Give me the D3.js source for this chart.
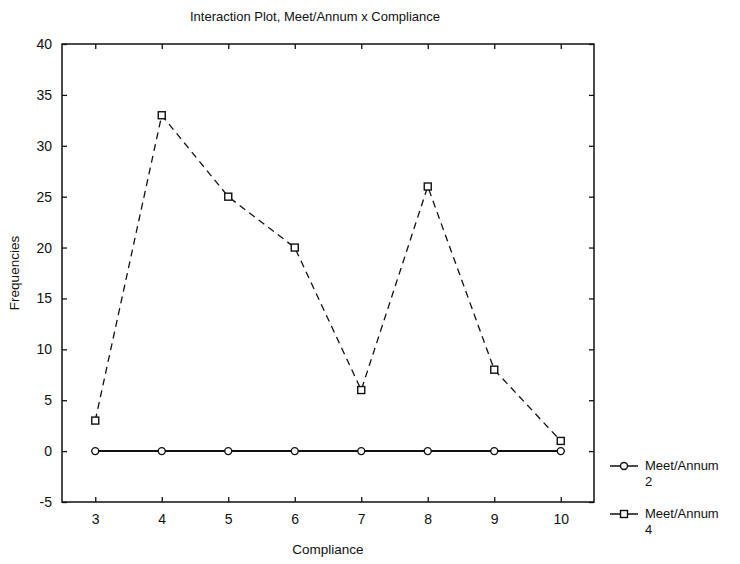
<!DOCTYPE html>
<html>
<head>
<meta charset="utf-8">
<script src="https://cdn.jsdelivr.net/npm/d3@7"></script>
<style>
  body { margin: 0; background: #fff; }
  text { font-family: "Liberation Sans", Arial, sans-serif; fill: #111; }
</style>
</head>
<body>
<div id="chart"></div>
<script>
// data
var compliance = [3, 4, 5, 6, 7, 8, 9, 10];
var meet2 = [0, 0, 0, 0, 0, 0, 0, 0];
var meet4 = [3, 33, 25, 20, 6, 26, 8, 1];
var yTicks = [-5, 0, 5, 10, 15, 20, 25, 30, 35, 40];
var seriesNames = ["Meet/Annum", "Meet/Annum"];
var seriesLevels = ["2", "4"];

var width = 740, height = 564;
// plot frame edges (note: "top" is reserved on window, so use other names)
var plotLeft = 62, plotRight = 594, plotTop = 44, plotBottom = 502;

var svg = d3.select("#chart").append("svg")
    .attr("width", width)
    .attr("height", height);

var x = d3.scaleLinear().domain([2.5, 10.5]).range([plotLeft, plotRight]);
var y = d3.scaleLinear().domain([-5, 40]).range([plotBottom, plotTop]);

// frame
svg.append("rect")
   .attr("x", plotLeft).attr("y", plotTop)
   .attr("width", plotRight - plotLeft).attr("height", plotBottom - plotTop)
   .attr("fill", "none").attr("stroke", "#111").attr("stroke-width", 1.5);

// axes, ticks point inward
var xAxis = d3.axisBottom(x).tickValues(compliance).tickSize(-5).tickPadding(12);
var xTop = d3.axisTop(x).tickValues(compliance).tickSize(-5).tickFormat("");
var yAxis = d3.axisLeft(y).tickValues(yTicks).tickSize(-5).tickPadding(10)
              .tickFormat(function(d) { return String(d); }); // plain hyphen for -5
var yRight = d3.axisRight(y).tickValues(yTicks).tickSize(-5).tickFormat("");

function style(g) {
  g.select(".domain").remove();
  g.selectAll("line").attr("stroke", "#111").attr("stroke-width", 1.3);
  g.selectAll("text").attr("font-size", 14).attr("fill", "#111")
   .attr("font-family", "Liberation Sans, Arial, sans-serif");
}

svg.append("g").attr("transform", "translate(0," + plotBottom + ")").call(xAxis).call(style);
svg.append("g").attr("transform", "translate(0," + plotTop + ")").call(xTop).call(style);
svg.append("g").attr("transform", "translate(" + plotLeft + ",0)").call(yAxis).call(style);
svg.append("g").attr("transform", "translate(" + plotRight + ",0)").call(yRight).call(style);

var line = d3.line()
    .x(function(d) { return x(d[0]); })
    .y(function(d) { return y(d[1]); });

var data2 = d3.zip(compliance, meet2);
var data4 = d3.zip(compliance, meet4);

// Meet/Annum 2 : solid line, circles
svg.append("path").datum(data2)
   .attr("d", line).attr("fill", "none")
   .attr("stroke", "#111").attr("stroke-width", 2);

svg.selectAll("circ2").data(data2).enter()
   .append("circle")
   .attr("cx", function(d) { return x(d[0]); })
   .attr("cy", function(d) { return y(d[1]); })
   .attr("r", 3.5)
   .attr("fill", "#fff").attr("stroke", "#111").attr("stroke-width", 1.4);

// Meet/Annum 4 : dashed line, squares
svg.append("path").datum(data4)
   .attr("d", line).attr("fill", "none")
   .attr("stroke", "#111").attr("stroke-width", 1.3)
   .attr("stroke-dasharray", "7,5");

svg.selectAll("sq4").data(data4).enter()
   .append("rect")
   .attr("x", function(d) { return x(d[0]) - 3.5; })
   .attr("y", function(d) { return y(d[1]) - 3.5; })
   .attr("width", 7).attr("height", 7)
   .attr("fill", "#fff").attr("stroke", "#111").attr("stroke-width", 1.4);

// titles
svg.append("text")
   .attr("x", 315).attr("y", 21)
   .attr("text-anchor", "middle").attr("font-size", 13)
   .text("Interaction Plot, Meet/Annum x Compliance");

svg.append("text")
   .attr("x", 328).attr("y", 554)
   .attr("text-anchor", "middle").attr("font-size", 13.5)
   .text("Compliance");

svg.append("text")
   .attr("transform", "translate(19,273) rotate(-90)")
   .attr("text-anchor", "middle").attr("font-size", 13.5)
   .text("Frequencies");

// legend
var legY = [466, 514];
var leg = svg.selectAll("leg").data(seriesNames).enter()
   .append("g")
   .attr("transform", function(d, i) { return "translate(0," + legY[i] + ")"; });

leg.append("line")
   .attr("x1", 610).attr("x2", 638).attr("y1", 0).attr("y2", 0)
   .attr("stroke", "#111").attr("stroke-width", 1.5);

leg.each(function(d, i) {
  var g = d3.select(this);
  if (i === 0) {
    g.append("circle").attr("cx", 624).attr("cy", 0).attr("r", 3.5)
     .attr("fill", "#fff").attr("stroke", "#111").attr("stroke-width", 1.4);
  } else {
    g.append("rect").attr("x", 620.5).attr("y", -3.5).attr("width", 7).attr("height", 7)
     .attr("fill", "#fff").attr("stroke", "#111").attr("stroke-width", 1.4);
  }
});

leg.append("text")
   .attr("x", 645).attr("y", 4).attr("font-size", 13)
   .text(function(d) { return d; });

leg.append("text")
   .attr("x", 645).attr("y", 20).attr("font-size", 13)
   .text(function(d, i) { return seriesLevels[i]; });
</script>
</body>
</html>
